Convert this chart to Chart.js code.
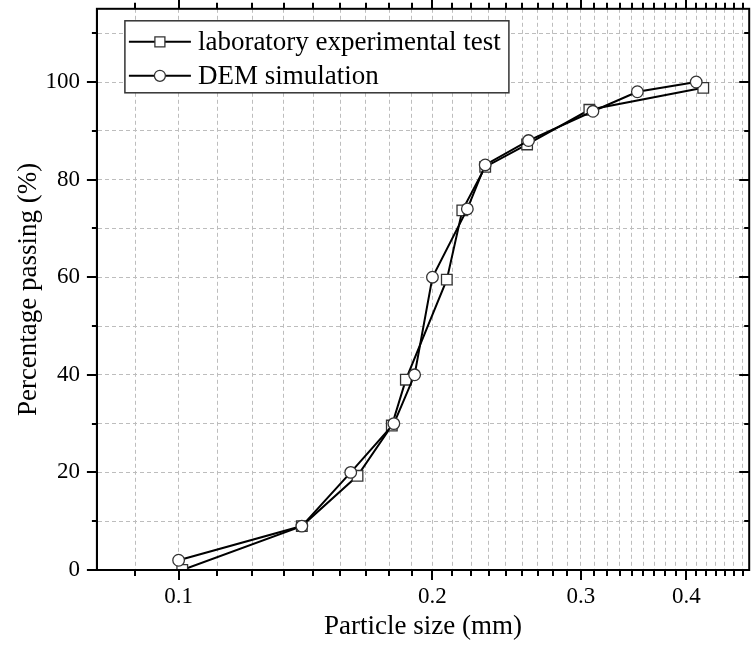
<!DOCTYPE html>
<html>
<head>
<meta charset="utf-8">
<script src="https://cdn.jsdelivr.net/npm/chart.js@4.4.1/dist/chart.umd.min.js"></script>
<style>
  html, body { margin: 0; padding: 0; background: #fff; overflow: hidden; }
  #wrap { width: 758px; height: 650px; }
</style>
</head>
<body>
<div id="wrap"><canvas id="grafica"></canvas></div>
<script>
const labX = [0.101, 0.140, 0.163, 0.179, 0.186, 0.208, 0.217, 0.231, 0.259, 0.307, 0.419]
const labY = [0, 9, 19.3, 29.6, 39, 59.5, 73.7, 82.6, 87.2, 94.3, 98.8]

const demX = [0.100, 0.140, 0.160, 0.180, 0.1905, 0.200, 0.220, 0.231, 0.260, 0.310, 0.350, 0.411]
const demY = [2, 9, 20, 30, 40, 60, 74, 83, 88, 94, 98, 100]

const xMajor = [0.1, 0.2, 0.3, 0.4]
const yTicks = [0, 10, 20, 30, 40, 50, 60, 70, 80, 90, 100, 110]
const yLabels = [0, 20, 40, 60, 80, 100]

const nombres = ['laboratory experimental test', 'DEM simulation']

// marcas menores: 8 entre cada mayor (reparto lineal, como en Origin)
let xTicks = []
const paso = 0.1 / 9
for (let v = 0.1 - paso; v < 0.475; v += paso) {
    xTicks.push(+v.toFixed(5))
}
xTicks = xTicks.map(v => xMajor.find(m => Math.abs(m - v) < 1e-4) ?? v)

const fuente = "'Liberation Serif', 'Times New Roman', serif"
Chart.defaults.font.family = fuente
Chart.defaults.color = '#000'

function linea(ctx, x1, y1, x2, y2) {
    ctx.beginPath()
    ctx.moveTo(x1, y1)
    ctx.lineTo(x2, y2)
    ctx.stroke()
}

function marcador(ctx, tipo, x, y) {
    ctx.beginPath()
    if (tipo === 'rect') {
        ctx.rect(x - 5, y - 5, 10, 10)
    } else {
        ctx.arc(x, y, 5.5, 0, Math.PI * 2)
    }
    ctx.fillStyle = '#fff'
    ctx.fill()
    ctx.lineWidth = 1.3
    ctx.strokeStyle = '#333'
    ctx.stroke()
}

// marco, marcas de los ejes y leyenda dentro del area
const marco = {
    id: 'marco',
    afterDatasetsDraw(chart) {
        const { ctx, chartArea: a, scales: { x, y } } = chart
        ctx.save()
        ctx.strokeStyle = '#000'
        ctx.lineWidth = 2
        ctx.strokeRect(a.left, a.top, a.right - a.left, a.bottom - a.top)

        x.ticks.forEach(t => {
            const px = Math.round(x.getPixelForValue(t.value))
            const largo = xMajor.includes(t.value) ? 10 : 6
            linea(ctx, px, a.bottom, px, a.bottom + largo)
            linea(ctx, px, a.top, px, a.top - largo)
        })
        y.ticks.forEach(t => {
            const py = Math.round(y.getPixelForValue(t.value))
            const largo = yLabels.includes(t.value) ? 10 : 5
            linea(ctx, a.left - largo, py, a.left, py)
            linea(ctx, a.right - largo, py, a.right, py)
        })

        // leyenda
        const bx = a.left + 28, by = a.top + 12, bw = 384, bh = 72
        ctx.fillStyle = '#fff'
        ctx.fillRect(bx, by, bw, bh)
        ctx.lineWidth = 1.5
        ctx.strokeStyle = '#333'
        ctx.strokeRect(bx, by, bw, bh)

        ctx.font = '27px ' + fuente
        ctx.textBaseline = 'middle'
        chart.data.datasets.forEach((ds, i) => {
            const fy = by + 21 + i * 34
            ctx.strokeStyle = '#000'
            ctx.lineWidth = 2
            linea(ctx, bx + 4, fy, bx + 66, fy)
            marcador(ctx, ds.pointStyle, bx + 35, fy)
            ctx.fillStyle = '#000'
            ctx.fillText(ds.label, bx + 73, fy + 1)
        })
        ctx.restore()
    }
}

const ctx = document.getElementById('grafica').getContext('2d')

new Chart(ctx, {
    type: 'line',
    data: {
        datasets: [
            {
                label: nombres[0],
                data: labX.map((v, i) => ({ x: v, y: labY[i] })),
                borderColor: '#000',
                borderWidth: 2,
                pointStyle: 'rect',
                pointRadius: 7.5,
                pointBackgroundColor: '#fff',
                pointBorderColor: '#333',
                pointBorderWidth: 1.3,
                order: 2
            },
            {
                label: nombres[1],
                data: demX.map((v, i) => ({ x: v, y: demY[i] })),
                borderColor: '#000',
                borderWidth: 2,
                pointStyle: 'circle',
                pointRadius: 5.8,
                pointBackgroundColor: '#fff',
                pointBorderColor: '#333',
                pointBorderWidth: 1.3,
                order: 1
            }
        ]
    },
    options: {
        responsive: true,
        maintainAspectRatio: false,
        animation: false,
        layout: { padding: { left: 13, right: 1, top: 7, bottom: 4 } },
        plugins: {
            legend: { display: false },
            tooltip: { enabled: false }
        },
        scales: {
            x: {
                type: 'logarithmic',
                min: 0.08,
                max: 0.475,
                afterBuildTicks: (s) => { s.ticks = xTicks.map(v => ({ value: v })) },
                afterFit: (s) => { s.paddingLeft = 0; s.paddingRight = 0 },
                ticks: {
                    autoSkip: false,
                    maxRotation: 0,
                    padding: 0,
                    font: { size: 23 },
                    color: '#000',
                    callback: (v) => xMajor.includes(v) ? String(v) : ''
                },
                grid: { color: '#bdbdbd', lineWidth: 1, drawTicks: true, tickLength: 13, tickColor: 'rgba(0,0,0,0)' },
                border: { color: '#000', width: 2, dash: [4, 3] },
                title: {
                    display: true,
                    text: 'Particle size (mm)',
                    font: { size: 27 },
                    color: '#000',
                    padding: { top: 0, bottom: 3 }
                }
            },
            y: {
                min: 0,
                max: 115,
                afterBuildTicks: (s) => { s.ticks = yTicks.map(v => ({ value: v })) },
                ticks: {
                    autoSkip: false,
                    padding: 0,
                    font: { size: 23, lineHeight: 0.5 },
                    color: '#000',
                    callback: (v) => yLabels.includes(v) ? String(v) : ''
                },
                grid: { color: '#bdbdbd', lineWidth: 1, drawTicks: true, tickLength: 17, tickColor: 'rgba(0,0,0,0)' },
                border: { color: '#000', width: 2, dash: [4, 3] },
                title: {
                    display: true,
                    text: 'Percentage passing (%)',
                    font: { size: 27 },
                    color: '#000',
                    padding: 0
                }
            }
        }
    },
    plugins: [marco]
});
</script>
</body>
</html>
